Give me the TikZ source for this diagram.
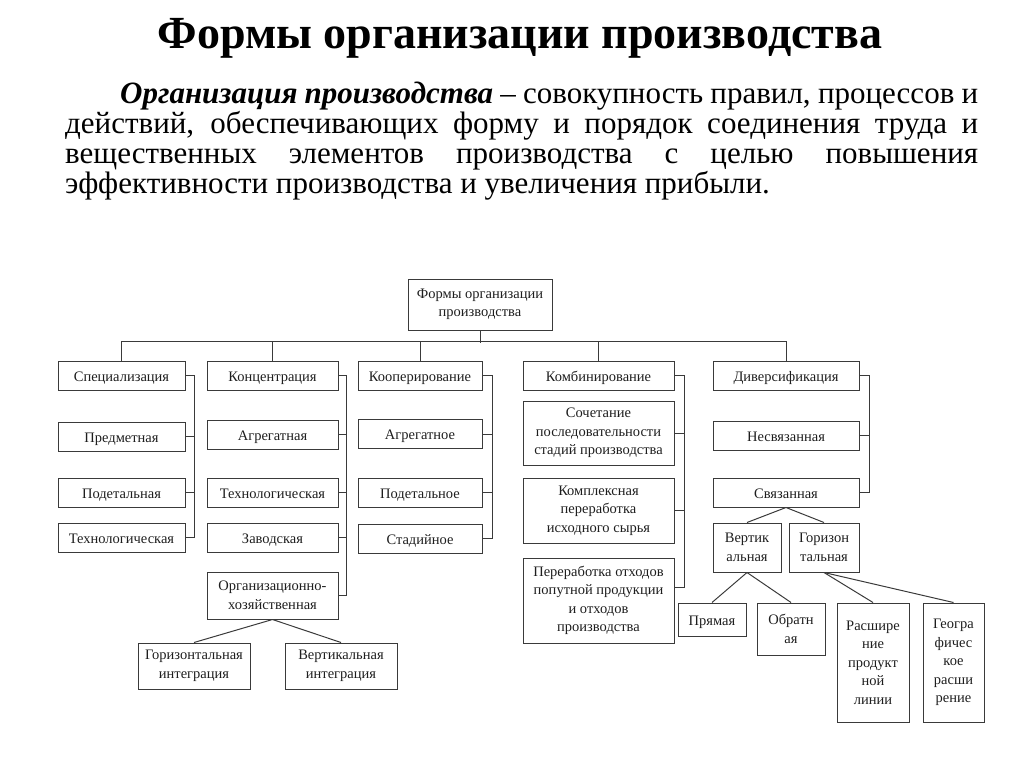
\documentclass[tikz,border=0pt]{standalone}
\usepackage{fontspec}
\setmainfont{Liberation Serif}
\usetikzlibrary{positioning}
\definecolor{boxline}{HTML}{3A3A3A}
\definecolor{boxtext}{HTML}{1E1E1E}
\tikzset{
  box/.style={draw=boxline, line width=1pt, inner sep=1pt, align=center, text=boxtext,
    font=\fontsize{14.5}{18.5}\selectfont},
  row/.style={box, minimum height=29pt, text height=12pt, text depth=1pt},
  link/.style={draw=boxline, line width=1pt},
}

\begin{document}
\begin{tikzpicture}[x=1pt,y=-1pt]
\useasboundingbox (0,0) rectangle (1024,767);

% heading and definition
\node[font=\bfseries\fontsize{46}{50}\selectfont, anchor=base] (title) at (520,49) {Формы организации производства};
\node[text width=913pt, align=justify, anchor=base west, inner sep=0pt,
  font=\fontsize{31}{30}\selectfont] (defin) at (65,103.5)
  {\hspace*{55pt}\textbf{\textit{Организация производства}} – совокупность правил, процессов и\linebreak
   действий, обеспечивающих форму и порядок соединения труда и\linebreak
   вещественных элементов производства с целью повышения\linebreak
   эффективности производства и увеличения прибыли.};

% root
\node[box, minimum width=144pt, minimum height=51pt] (forms) at (480,304.5) {Формы организации\\производства};

% first row
\node[row, minimum width=127pt] (spec) at (121.5,375.5) {Специализация};
\node[row, minimum width=131pt] (konc) at (272.5,375.5) {Концентрация};
\node[row, minimum width=124pt] (koop) at (420,375.5) {Кооперирование};
\node[row, minimum width=151pt] (komb) at (598.5,375.5) {Комбинирование};
\node[row, minimum width=146pt] (div) at (786,375.5) {Диверсификация};

% specialization
\node[row, minimum width=127pt] (spec1) at (121.5,436.5) {Предметная};
\node[row, minimum width=127pt] (spec2) at (121.5,492.5) {Подетальная};
\node[row, minimum width=127pt] (spec3) at (121.5,537.5) {Технологическая};

% concentration
\node[row, minimum width=131pt] (konc1) at (272.5,434.5) {Агрегатная};
\node[row, minimum width=131pt] (konc2) at (272.5,492.5) {Технологическая};
\node[row, minimum width=131pt] (konc3) at (272.5,537.5) {Заводская};
\node[box, minimum width=131pt, minimum height=47pt] (konc4) at (272.5,595.5) {Организационно-\\хозяйственная};
\node[box, minimum width=112pt, minimum height=46pt] (gorint) at (194,666) {Горизонтальная\\интеграция};
\node[box, minimum width=112pt, minimum height=46pt] (vertint) at (341,666) {Вертикальная\\интеграция};

% cooperation
\node[row, minimum width=124pt] (koop1) at (420,434) {Агрегатное};
\node[row, minimum width=124pt] (koop2) at (420,492.5) {Подетальное};
\node[row, minimum width=124pt] (koop3) at (420,538.5) {Стадийное};

% combination
\node[box, minimum width=151pt, minimum height=64pt] (komb1) at (598.5,433) {Сочетание\\последовательности\\стадий производства};
\node[box, minimum width=151pt, minimum height=65pt] (komb2) at (598.5,510.5) {Комплексная\\переработка\\исходного сырья};
\node[box, minimum width=151pt, minimum height=85pt] (komb3) at (598.5,600.5) {Переработка отходов\\попутной продукции\\и отходов\\производства};

% diversification
\node[row, minimum width=146pt] (div1) at (786,435.5) {Несвязанная};
\node[row, minimum width=146pt] (div2) at (786,492.5) {Связанная};
\node[box, minimum width=68pt, minimum height=49pt] (vert) at (747,547.5) {Вертик\\альная};
\node[box, minimum width=70pt, minimum height=49pt] (gorz) at (824,547.5) {Горизон\\тальная};
\node[row, minimum width=68pt, minimum height=33pt] (pryam) at (712,619.5) {Прямая};
\node[box, minimum width=68pt, minimum height=52pt] (obrat) at (791,629) {Обратн\\ая};
\node[box, minimum width=72pt, minimum height=119pt] (rassh) at (873,662.5) {Расшире\\ние\\продукт\\ной\\линии};
\node[box, minimum width=61pt, minimum height=119pt] (geogr) at (953.5,662.5) {Геогра\\фичес\\кое\\расши\\рение};

% bus from the root
\draw[link] (forms.south) -- ++(0,12);
\draw[link] (spec.north) -- ++(0,-19) -| (div.north);
\foreach \n in {konc,koop,komb}
  \draw[link] (\n.north) -- ++(0,-19);

% brackets on the right of each column
\draw[link] (spec.east) -- ++(9,0) |- (spec3.east);
\foreach \n in {spec1,spec2}
  \draw[link] (\n.east) -- ++(9,0);
\draw[link] (konc.east) -- ++(8,0) |- (konc4.east);
\foreach \n in {konc1,konc2,konc3}
  \draw[link] (\n.east) -- ++(8,0);
\draw[link] (koop.east) -- ++(10,0) |- (koop3.east);
\foreach \n in {koop1,koop2}
  \draw[link] (\n.east) -- ++(10,0);
\draw[link] (komb.east) -- ++(10,0) |- ([yshift=13.5pt]komb3.east);
\foreach \n in {komb1,komb2}
  \draw[link] (\n.east) -- ++(10,0);
\draw[link] (div.east) -- ++(10,0) |- (div2.east);
\draw[link] (div1.east) -- ++(10,0);

% sub-trees
\draw[link] (konc4.south) -- (gorint.north);
\draw[link] (konc4.south) -- (vertint.north);
\draw[link] (div2.south) -- (vert.north);
\draw[link] (div2.south) -- (gorz.north);
\draw[link] (vert.south) -- (pryam.north);
\draw[link] (vert.south) -- (obrat.north);
\draw[link] (gorz.south) -- (rassh.north);
\draw[link] (gorz.south) -- (geogr.north);
\end{tikzpicture}
\end{document}
